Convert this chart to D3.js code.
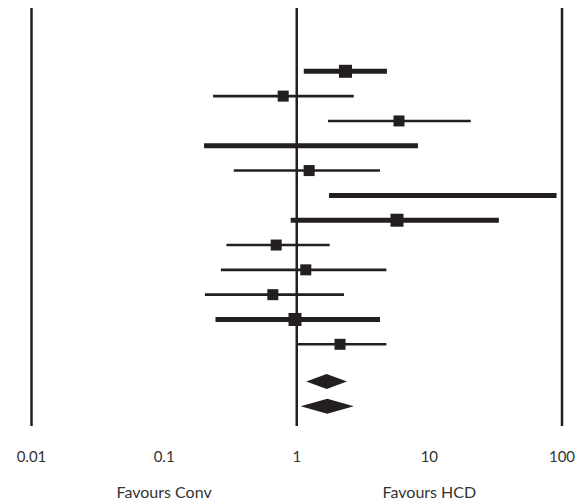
<!DOCTYPE html>
<html>
<head>
<meta charset="utf-8">
<script src="https://cdn.jsdelivr.net/npm/d3@7"></script>
<style>
  body { margin: 0; background: #fff; }
  text { font-family: Lato, "Open Sans", sans-serif; fill: #333; }
</style>
</head>
<body>
<svg></svg>
<script>
const width = 580;
const height = 503;

// study rows (top to bottom)
const studies = ['1', '2', '3', '4', '5', '6', '7', '8', '9', '10', '11', '12'];
const estimates = [2.33, 0.79, 5.9, null, 1.24, null, 5.7, 0.70, 1.17, 0.66, 0.97, 2.12];
const lowers = [1.13, 0.234, 1.72, 0.20, 0.335, 1.75, 0.90, 0.295, 0.268, 0.203, 0.244, 1.02];
const uppers = [4.79, 2.69, 20.5, 8.2, 4.24, 91, 33.4, 1.77, 4.74, 2.27, 4.24, 4.74];
const weights = [2, 1, 1, 2, 1, 2, 2, 1, 1, 1, 2, 1];

// pooled estimates (diamonds)
const pooledEst = [1.68, 1.70];
const pooledLo = [1.18, 1.07];
const pooledHi = [2.39, 2.69];

const tickValues = [0.01, 0.1, 1, 10, 100];
const tickLabels = ['0.01', '0.1', '1', '10', '100'];
const refLines = [0.01, 1, 100];
const sideLabels = ['Favours Conv', 'Favours HCD'];
const sideValues = [0.1, 10];

const rows = studies.map((s, i) => ({
    study: s, est: estimates[i], lo: lowers[i], hi: uppers[i], w: weights[i], pos: i
}));
const pooled = pooledEst.map((e, i) => ({ est: e, lo: pooledLo[i], hi: pooledHi[i], pos: 12.5 + i }));

const xScale = d3.scaleLog()
                    .domain([0.01, 100])
                    .range([31.5, 562]);
const yScale = d3.scaleLinear()
                    .domain([0, 11])
                    .range([71.3, 344.3]);
const lineWidth = d3.scaleOrdinal().domain([1, 2]).range([2.6, 5]);
const boxSize = d3.scaleOrdinal().domain([1, 2]).range([11, 13]);

const ink = '#231f20';

const svg = d3.select('svg')
                .attr('width', width)
                .attr('height', height);

// vertical reference lines
svg.selectAll('.ref')
    .data(refLines)
    .enter()
    .append('line')
        .attr('class', 'ref')
        .attr('x1', d => xScale(d))
        .attr('x2', d => xScale(d))
        .attr('y1', 8)
        .attr('y2', 426)
        .attr('stroke', ink)
        .attr('stroke-width', 2.5);

// confidence intervals
svg.selectAll('.ci')
    .data(rows)
    .enter()
    .append('line')
        .attr('class', 'ci')
        .attr('x1', d => xScale(d.lo))
        .attr('x2', d => xScale(d.hi))
        .attr('y1', d => yScale(d.pos))
        .attr('y2', d => yScale(d.pos))
        .attr('stroke', ink)
        .attr('stroke-width', d => lineWidth(d.w));

// point estimates
svg.selectAll('.box')
    .data(rows.filter(d => d.est != null))
    .enter()
    .append('rect')
        .attr('class', 'box')
        .attr('x', d => xScale(d.est) - boxSize(d.w) / 2)
        .attr('y', d => yScale(d.pos) - boxSize(d.w) / 2)
        .attr('width', d => boxSize(d.w))
        .attr('height', d => boxSize(d.w))
        .attr('fill', ink);

// pooled diamonds
svg.selectAll('.diamond')
    .data(pooled)
    .enter()
    .append('path')
        .attr('class', 'diamond')
        .attr('d', d => {
            const y = yScale(d.pos);
            return `M${xScale(d.lo)},${y}L${xScale(d.est)},${y - 7.5}L${xScale(d.hi)},${y}L${xScale(d.est)},${y + 7.5}Z`;
        })
        .attr('fill', ink);

// tick labels
svg.selectAll('.tick-label')
    .data(tickValues)
    .enter()
    .append('text')
        .attr('class', 'tick-label')
        .attr('x', d => xScale(d))
        .attr('y', 462)
        .style('text-anchor', 'middle')
        .style('font-size', '15px')
        .text((d, i) => tickLabels[i]);

// side labels
svg.selectAll('.side-label')
    .data(sideValues)
    .enter()
    .append('text')
        .attr('class', 'side-label')
        .attr('x', d => xScale(d))
        .attr('y', 498)
        .style('text-anchor', 'middle')
        .style('font-size', '16px')
        .text((d, i) => sideLabels[i]);
</script>
</body>
</html>
